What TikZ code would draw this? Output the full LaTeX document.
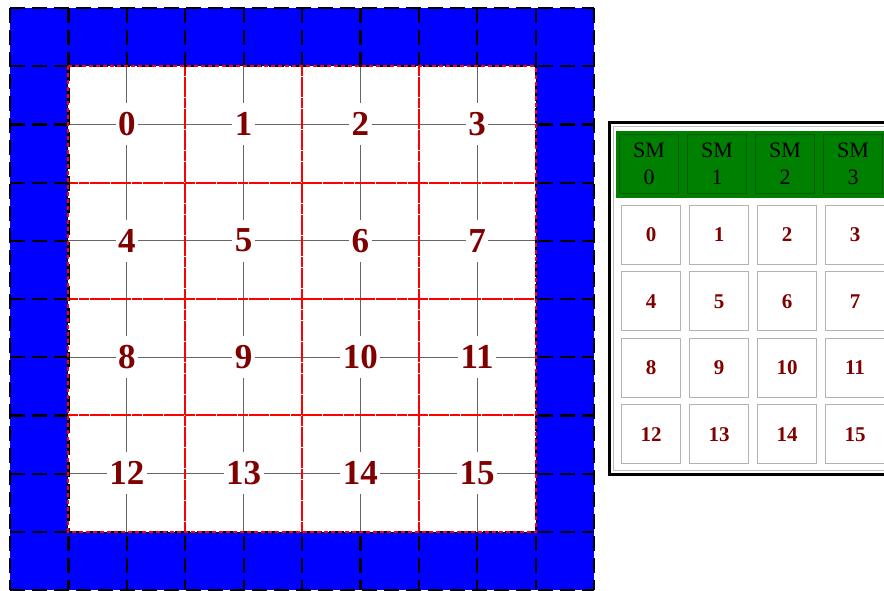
\documentclass[tikz,border=0pt]{standalone}
\usepackage{fontspec}
\setmainfont{Liberation Serif}[BoldFont={Liberation Serif Bold}]
\definecolor{darkred}{HTML}{800000}
\definecolor{smgreen}{HTML}{008000}
\definecolor{smedge}{HTML}{005A00}
\begin{document}
\begin{tikzpicture}[x=1pt,y=-1pt,
  tileline/.style={black,line width=2.2pt,dash pattern=on 15pt off 7pt},
  blockline/.style={red,line width=2pt,dash pattern=on 10pt off 0.6pt},
  threadline/.style={black!60,line width=0.8pt},
  blocknum/.style={fill=white,text=darkred,font=\bfseries\fontsize{35}{35}\selectfont,
    inner xsep=2.5pt,inner ysep=0pt,minimum height=42pt},
  smbox/.style={draw=smedge,line width=0.6pt,fill=smgreen,minimum width=59.4pt,
    minimum height=59.3pt,inner sep=0pt,align=center,font=\fontsize{22}{27}\selectfont},
  threadbox/.style={draw=black!30,line width=0.8pt,fill=white,minimum width=59.4pt,
    minimum height=59pt,inner sep=0pt,text=darkred,font=\bfseries\fontsize{21}{21}\selectfont}]
  \clip (0,0) rectangle (884,590);
  % halo tiles
  \fill[blue] (10,8) rectangle (594,590);
  \foreach \i in {0,...,10} {
    \draw[tileline] ({10+58.4*\i},8) -- ({10+58.4*\i},590);
    \draw[tileline] (10,{8+58.2*\i}) -- (594,{8+58.2*\i});
  }
  % inner block
  \fill[white] (68.4,66.2) rectangle (535.6,531.8);
  \foreach \i in {0,...,3} {
    \draw[threadline] ({126.8+116.8*\i},66.2) -- ({126.8+116.8*\i},531.8);
    \draw[threadline] (68.4,{124.2+116.4*\i}) -- (535.6,{124.2+116.4*\i});
  }
  \foreach \i in {1,2,3} {
    \draw[blockline] ({68.4+116.8*\i},66.2) -- ({68.4+116.8*\i},531.8);
    \draw[blockline] (68.4,{66.2+116.4*\i}) -- (535.6,{66.2+116.4*\i});
  }
  \draw[tileline] (68.4,66.2) rectangle (535.6,531.8);
  \draw[red,line width=2pt,dash pattern=on 4pt off 3pt] (68.4,66.2) rectangle (535.6,531.8);
  \foreach \r in {0,...,3}
    \foreach \c in {0,...,3} {
      \pgfmathtruncatemacro\k{4*\r+\c}
      \node[blocknum] (n\k) at ({126.8+116.8*\c},{124.2+116.4*\r}) {\k};
    }
  % SM panel
  \draw[line width=3pt] (609.5,122.5) rectangle (900,474.5);
  \draw[black!25,line width=0.8pt] (613.5,126.5) rectangle (900,470.5);
  \fill[smgreen] (615.5,130.5) rectangle (900,197.5);
  \foreach \c in {0,...,3}
    \node[smbox] (sm\c) at ({649+68*\c},163.7) {SM\\\c};
  \foreach \r in {0,...,3}
    \foreach \c in {0,...,3} {
      \pgfmathtruncatemacro\k{4*\r+\c}
      \node[threadbox] (t\k) at ({651+68*\c},{234.8+66.5*\r}) {\k};
    }
\end{tikzpicture}
\end{document}
